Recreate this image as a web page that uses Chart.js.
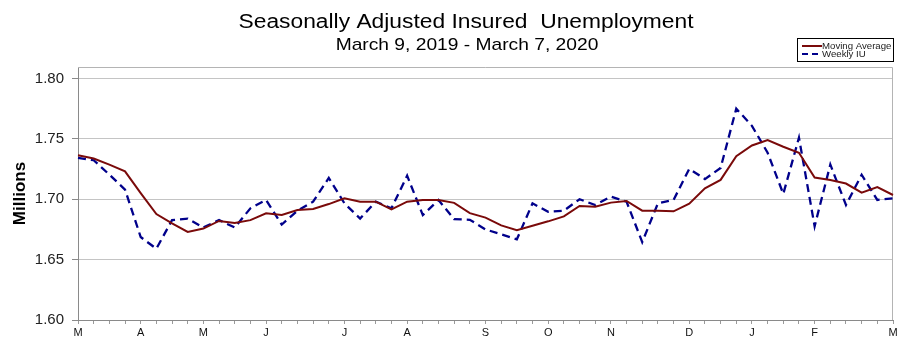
<!DOCTYPE html>
<html>
<head>
<meta charset="utf-8">
<script src="https://cdn.jsdelivr.net/npm/chart.js@4.4.1/dist/chart.umd.min.js"></script>
<style>
  html, body { margin: 0; padding: 0; background: #fff; }
  #wrap { width: 916px; height: 354px; position: relative; }
</style>
</head>
<body>
<div id="wrap"><canvas id="iuChart" width="916" height="354"></canvas></div>
<script>
// weekly labels, Mar 9 2019 .. Mar 7 2020 (month letter on first week of month)
const weekLabels = [
  'M', '', '', '', 'A', '', '', '', 'M', '', '', '', 'J', '', '', '', '', 'J', '', '', '', 'A',
  '', '', '', '', 'S', '', '', '', 'O', '', '', '', 'N', '', '', '', '', 'D', '', '', '', 'J',
  '', '', '', 'F', '', '', '', '', 'M'
];

const movingAverage = [
  1.7365, 1.7337, 1.7287, 1.7231, 1.705, 1.6877, 1.680, 1.6729, 1.6757, 1.682, 1.6804,
  1.6827, 1.6883, 1.687, 1.691, 1.692, 1.696, 1.7008, 1.698, 1.698, 1.6916, 1.698,
  1.6994, 1.6994, 1.697, 1.6885, 1.6848, 1.6783, 1.6743, 1.678, 1.6817, 1.6858, 1.6944,
  1.6938, 1.6972, 1.6986, 1.6905, 1.6905, 1.690, 1.6963, 1.709, 1.716, 1.7356, 1.7445,
  1.749, 1.7435, 1.7385, 1.718, 1.716, 1.713, 1.7055, 1.710, 1.7035
];

const weeklyIU = [
  1.7343, 1.7323, 1.7204, 1.708, 1.6687, 1.659, 1.6827, 1.684, 1.6766, 1.6827, 1.6766,
  1.6925, 1.6994, 1.679, 1.6905, 1.698, 1.7176, 1.6966, 1.684, 1.698, 1.6925, 1.7195,
  1.6869, 1.6994, 1.6835, 1.683, 1.675, 1.671, 1.6668, 1.6966, 1.6896, 1.6905, 1.700,
  1.6952, 1.7022, 1.698, 1.6645, 1.6966, 1.6994, 1.7252, 1.7167, 1.7259, 1.775, 1.7608,
  1.7385, 1.7044, 1.751, 1.6776, 1.7287, 1.6952, 1.7203, 1.6994, 1.7008
];

const titleText = 'Seasonally Adjusted Insured  Unemployment';
const subtitleText = 'March 9, 2019 - March 7, 2020';

// text in the original is a little stretched sideways
function wideText(ctx, text, x, y, sx) {
  ctx.save();
  ctx.translate(x, y);
  ctx.scale(sx, 1);
  ctx.fillText(text, 0, 0);
  ctx.restore();
}

// titles, plot frame and the boxed legend
const decorations = {
  id: 'decorations',
  beforeDatasetsDraw(chart) {
    const { ctx, chartArea: a } = chart;
    ctx.save();
    ctx.strokeStyle = '#b4b4b4';
    ctx.lineWidth = 1;
    ctx.beginPath();
    ctx.moveTo(a.left, a.top + 0.5);
    ctx.lineTo(a.right - 0.5, a.top + 0.5);
    ctx.lineTo(a.right - 0.5, a.bottom);
    ctx.stroke();
    ctx.restore();
  },
  afterDraw(chart) {
    const ctx = chart.ctx;
    ctx.save();
    ctx.fillStyle = '#000';
    ctx.textAlign = 'center';
    ctx.textBaseline = 'middle';
    ctx.font = '20px "Liberation Sans", Arial, sans-serif';
    wideText(ctx, titleText, 466, 22, 1.14);
    ctx.font = '17px "Liberation Sans", Arial, sans-serif';
    wideText(ctx, subtitleText, 467, 45, 1.13);

    // legend
    const bx = 797, by = 38, bw = 96, bh = 23;
    ctx.fillStyle = '#fff';
    ctx.fillRect(bx, by, bw, bh);
    ctx.strokeStyle = '#000';
    ctx.lineWidth = 1;
    ctx.strokeRect(bx + 0.5, by + 0.5, bw, bh);
    ctx.font = '9px "Liberation Sans", Arial, sans-serif';
    ctx.textAlign = 'left';
    chart.data.datasets.forEach((ds, i) => {
      const y = by + 8 + i * 8;
      ctx.strokeStyle = ds.borderColor;
      ctx.lineWidth = 2;
      ctx.setLineDash(ds.borderDash && ds.borderDash.length ? [6, 4] : []);
      ctx.beginPath();
      ctx.moveTo(bx + 5, y);
      ctx.lineTo(bx + 25, y);
      ctx.stroke();
      ctx.setLineDash([]);
      ctx.fillStyle = '#222';
      wideText(ctx, ds.label, bx + 25, y + 0.5, 1.07);
    });
    ctx.restore();
  }
};

new Chart(document.getElementById('iuChart'), {
  type: 'line',
  data: {
    labels: weekLabels,
    datasets: [{
      label: 'Moving Average',
      data: movingAverage,
      borderColor: '#7a0a0a',
      borderWidth: 2,
      pointRadius: 0,
      tension: 0
    }, {
      label: 'Weekly IU',
      data: weeklyIU,
      borderColor: '#00008b',
      borderWidth: 2.3,
      borderDash: [8, 5],
      pointRadius: 0,
      tension: 0
    }]
  },
  options: {
    responsive: false,
    animation: false,
    layout: { padding: { top: 67, right: 23, left: 0, bottom: 0 } },
    plugins: {
      legend: { display: false },
      tooltip: { enabled: false }
    },
    scales: {
      x: {
        offset: false,
        afterFit: s => { s.height = 34; },
        grid: { drawOnChartArea: false, tickLength: 4, color: '#9a9a9a' },
        border: { color: '#8a8a8a' },
        ticks: {
          autoSkip: false,
          maxRotation: 0,
          padding: 2,
          color: '#111',
          font: { family: '"Liberation Sans", Arial, sans-serif', size: 11 }
        }
      },
      y: {
        min: 1.60,
        max: 1.8095,
        afterFit: s => { s.width = 78; },
        grid: { color: '#c4c4c4', tickLength: 6, tickColor: '#8a8a8a' },
        border: { color: '#8a8a8a' },
        title: {
          display: true,
          text: 'Millions',
          color: '#000',
          padding: { top: 10, bottom: 0 },
          font: { family: '"Liberation Sans", Arial, sans-serif', size: 17, weight: 'bold' }
        },
        ticks: {
          stepSize: 0.05,
          includeBounds: false,
          padding: 8,
          color: '#222',
          font: { family: '"Liberation Sans", Arial, sans-serif', size: 15 },
          callback: v => v.toFixed(2)
        }
      }
    }
  },
  plugins: [decorations]
});
</script>
</body>
</html>
